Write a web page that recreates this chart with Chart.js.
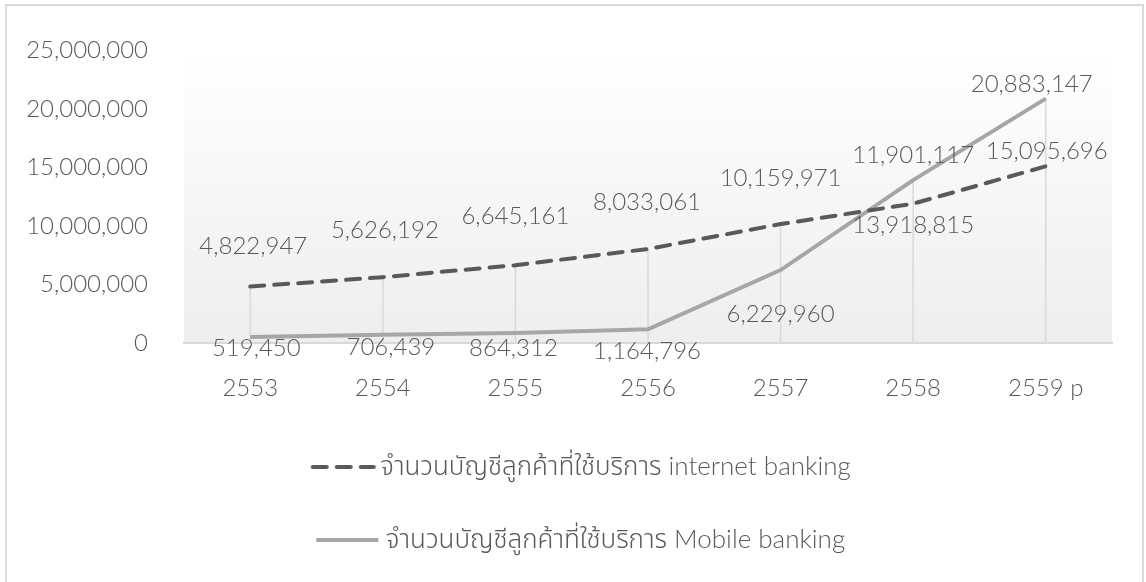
<!DOCTYPE html>
<html>
<head>
<meta charset="utf-8">
<script src="https://cdn.jsdelivr.net/npm/chart.js@4.4.0/dist/chart.umd.min.js"></script>
<style>
  html, body { margin: 0; padding: 0; background: #fff; }
  #wrap { position: relative; width: 1146px; height: 582px; }
  #frame { position: absolute; left: 5px; top: 4px; width: 1139px; height: 600px;
           border: 2px solid #d9d9d9; box-sizing: border-box; pointer-events: none; }
</style>
</head>
<body>
<div id="wrap">
  <canvas id="chart"></canvas>
  <div id="frame"></div>
</div>
<script>
const years = ['2553', '2554', '2555', '2556', '2557', '2558', '2559 p'];
const internetBanking = [4822947, 5626192, 6645161, 8033061, 10159971, 11901117, 15095696];
const mobileBanking = [519450, 706439, 864312, 1164796, 6229960, 13918815, 20883147];
const yTicks = [0, 5000000, 10000000, 15000000, 20000000, 25000000];

const internetLabel = 'จำนวนบัญชีลูกค้าที่ใช้บริการ internet banking';
const mobileLabel = 'จำนวนบัญชีลูกค้าที่ใช้บริการ Mobile banking';

// where each value label sits relative to its point (dx, dy)
const internetShift = [[3, -40], [2, -47], [0, -49], [-1, -47], [0, -46], [0, -48], [1, -15]];
const mobileShift = [[6, 11], [8, 13], [-2, 15], [-1, 22], [0, 44], [0, 45], [-14, -14]];

const FONT = "'Lato', 'Noto Sans', 'Noto Sans Thai', 'Loma', sans-serif";
const TEXT = '#595959';
const DARK = '#595959';
const LIGHT = '#a6a6a6';
const fmt = v => v.toLocaleString('en-US');

// line samples for the legend; drawn in the right part of a wider image
// so the sample sits close to its text
function sample(color, dash) {
  const c = document.createElement('canvas');
  c.width = 100; c.height = 6;
  const g = c.getContext('2d');
  g.strokeStyle = color;
  g.lineWidth = 4;
  g.lineCap = dash.length ? 'round' : 'butt';
  g.setLineDash(dash);
  g.beginPath();
  g.moveTo(dash.length ? 36 : 34, 3);
  g.lineTo(dash.length ? 97 : 96, 3);
  g.stroke();
  return c;
}

const plotBackground = {
  id: 'plotBackground',
  beforeDraw(chart) {
    const { ctx, chartArea: a } = chart;
    const g = ctx.createLinearGradient(0, a.top, 0, a.bottom);
    g.addColorStop(0, '#ffffff');
    g.addColorStop(1, '#eeeeee');
    ctx.save();
    ctx.fillStyle = g;
    ctx.fillRect(a.left, a.top, a.right - a.left, a.bottom - a.top);
    ctx.restore();
  }
};

// drop lines from the higher point down to the axis
const dropLines = {
  id: 'dropLines',
  beforeDatasetsDraw(chart) {
    const { ctx, chartArea: a } = chart;
    const m0 = chart.getDatasetMeta(0).data;
    const m1 = chart.getDatasetMeta(1).data;
    ctx.save();
    ctx.strokeStyle = '#d9d9d9';
    ctx.lineWidth = 1.5;
    m0.forEach((p, i) => {
      const top = Math.min(p.y, m1[i].y);
      ctx.beginPath();
      ctx.moveTo(p.x, top);
      ctx.lineTo(p.x, a.bottom);
      ctx.stroke();
    });
    ctx.restore();
  }
};

const valueLabels = {
  id: 'valueLabels',
  afterDatasetsDraw(chart) {
    const { ctx } = chart;
    ctx.save();
    ctx.font = '300 24px ' + FONT;
    ctx.fillStyle = TEXT;
    ctx.textAlign = 'center';
    ctx.textBaseline = 'middle';
    chart.data.datasets.forEach((ds, d) => {
      chart.getDatasetMeta(d).data.forEach((p, i) => {
        const s = ds.labelShift[i];
        ctx.fillText(fmt(ds.data[i]), p.x + s[0], p.y + s[1]);
      });
    });
    ctx.restore();
  }
};

new Chart(document.getElementById('chart'), {
  type: 'line',
  data: {
    labels: years,
    datasets: [{
      label: internetLabel,
      data: internetBanking,
      borderColor: DARK,
      backgroundColor: DARK,
      borderWidth: 4,
      borderDash: [14, 10],
      borderCapStyle: 'round',
      pointRadius: 0,
      pointStyle: sample(DARK, [14, 10]),
      tension: 0,
      labelShift: internetShift
    }, {
      label: mobileLabel,
      data: mobileBanking,
      borderColor: LIGHT,
      backgroundColor: LIGHT,
      borderWidth: 4,
      pointRadius: 0,
      pointStyle: sample(LIGHT, []),
      tension: 0,
      labelShift: mobileShift
    }]
  },
  options: {
    responsive: true,
    maintainAspectRatio: false,
    animation: false,
    layout: { padding: { left: 25, right: 34, top: 27, bottom: 19 } },
    scales: {
      x: {
        offset: true,
        grid: { display: false, drawTicks: false },
        border: { display: true, color: '#d9d9d9', width: 2 },
        ticks: { color: TEXT, font: { family: FONT, size: 24, weight: 300 }, padding: 31 },
        afterFit(axis) { axis.height = 64; }
      },
      y: {
        min: 0,
        max: 25000000,
        afterBuildTicks(axis) { axis.ticks = yTicks.map(v => ({ value: v })); },
        grid: { display: false, drawTicks: false },
        border: { display: false },
        ticks: { color: TEXT, font: { family: FONT, size: 24, weight: 300 }, padding: 36, callback: v => fmt(v) },
        afterFit(axis) { axis.width = 159; }
      }
    },
    plugins: {
      tooltip: { enabled: false },
      legend: {
        position: 'bottom',
        labels: {
          color: TEXT,
          font: { family: FONT, size: 26, weight: 300 },
          usePointStyle: true,
          pointStyleWidth: 81,
          boxHeight: 4,
          padding: 47
        }
      }
    }
  },
  plugins: [plotBackground, dropLines, valueLabels]
});
</script>
</body>
</html>
